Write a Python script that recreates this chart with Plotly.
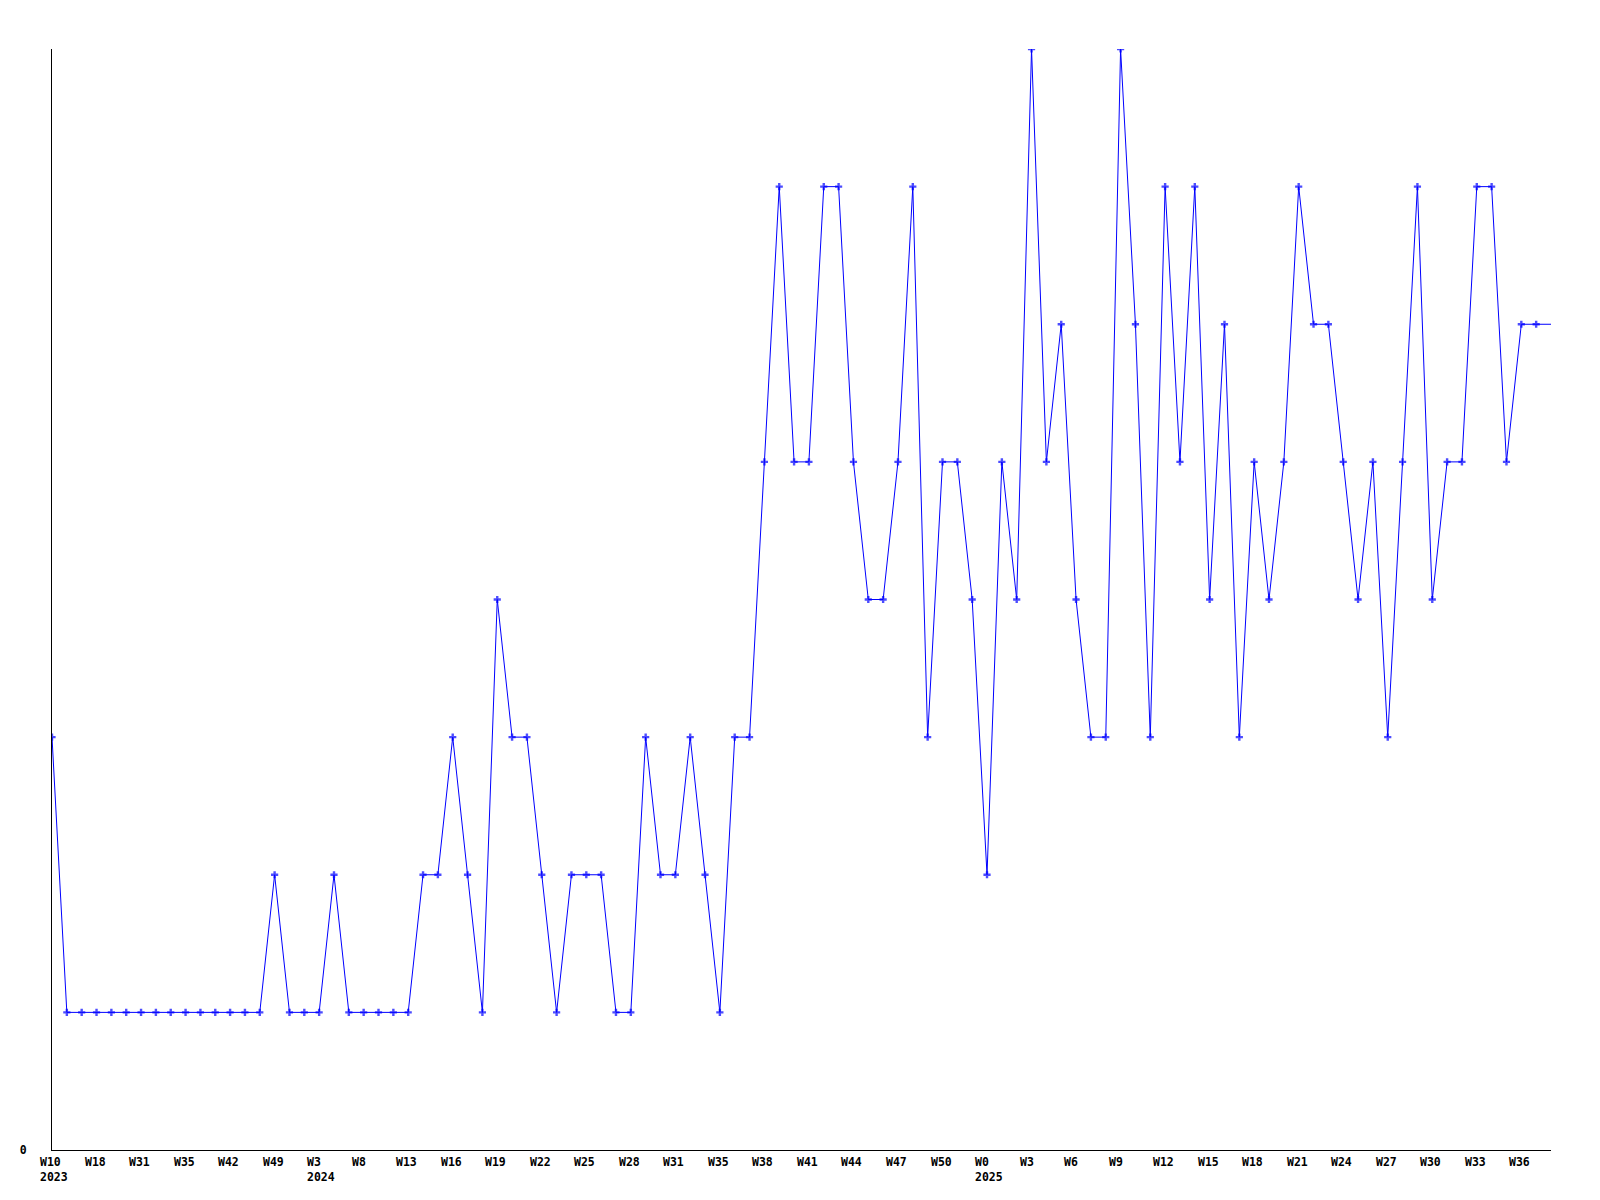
import plotly.graph_objects as go

# Weekly values (one per category, left to right)
values = [3, 1, 1, 1, 1, 1, 1, 1, 1, 1, 1, 1, 1, 1, 1, 2, 1, 1, 1, 2,
          1, 1, 1, 1, 1, 2, 2, 3, 2, 1, 4, 3, 3, 2, 1, 2, 2, 2, 1, 1,
          3, 2, 2, 3, 2, 1, 3, 3, 5, 7, 5, 5, 7, 7, 5, 4, 4, 5, 7, 3,
          5, 5, 4, 2, 5, 4, 8, 5, 6, 4, 3, 3, 8, 6, 3, 7, 5, 7, 4, 6,
          3, 5, 4, 5, 7, 6, 6, 5, 4, 5, 3, 5, 7, 4, 5, 5, 7, 7, 5, 6,
          6, 6]

# Labels shown on every third category
tick_labels = ["W10<br>2023", "W18", "W31", "W35", "W42", "W49", "W3<br>2024", "W8",
               "W13", "W16", "W19", "W22", "W25", "W28", "W31", "W35", "W38",
               "W41", "W44", "W47", "W50", "W0<br>2025", "W3", "W6", "W9",
               "W12", "W15", "W18", "W21", "W24", "W27", "W30", "W33", "W36"]
label_step = 3

x_idx = list(range(len(values)))
marker_sizes = [6] * (len(values) - 1) + [0]

fig = go.Figure()
fig.add_trace(go.Scatter(
    x=x_idx, y=values, mode="lines+markers",
    line=dict(color="#0000FF", width=1),
    marker=dict(symbol="cross", size=marker_sizes, color="#0000FF", line=dict(width=0)),
    hoverinfo="skip", showlegend=False,
))

font = dict(family="DejaVu Sans Mono", size=11.5, color="black", weight="bold")

annotations = []
for i, lab in enumerate(tick_labels):
    annotations.append(dict(
        x=i * label_step, y=0, xref="x", yref="paper",
        text=lab, showarrow=False, xanchor="left", yanchor="top",
        align="left", xshift=-14, yshift=-3, font=font,
    ))

fig.update_layout(
    width=1584, height=1184,
    margin=dict(l=41, r=41, t=41, b=42),
    paper_bgcolor="white", plot_bgcolor="white",
    annotations=annotations,
    xaxis=dict(range=[0, len(values) - 1], showgrid=False, zeroline=False,
               showline=True, linecolor="black", linewidth=1,
               showticklabels=False, ticks=""),
    yaxis=dict(range=[0, 8], showgrid=False, zeroline=False,
               showline=True, linecolor="black", linewidth=1,
               tickvals=[0], ticktext=["0"], ticks="", tickfont=font,
               ticklabelstandoff=22),
)

fig.write_html("out.html")
